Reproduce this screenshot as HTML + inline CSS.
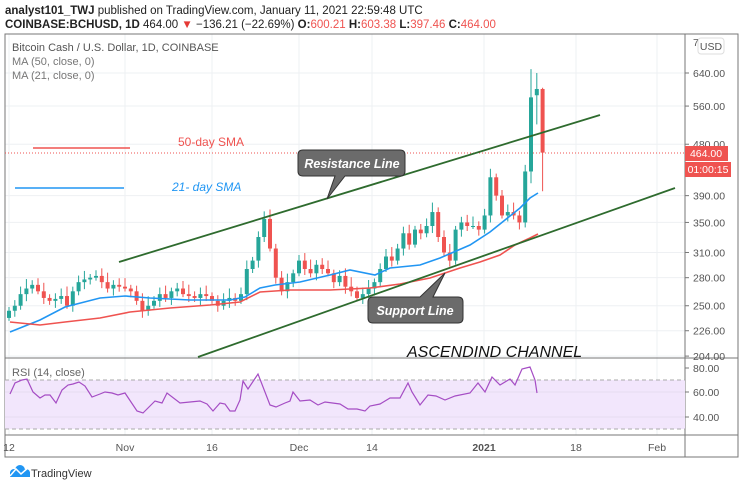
<!DOCTYPE html><html><head><meta charset="utf-8"><style>
body{margin:0;background:#fff;width:740px;height:487px;overflow:hidden;font-family:"Liberation Sans",sans-serif}
</style></head><body>
<svg id="s" width="740" height="487" xmlns="http://www.w3.org/2000/svg" font-family="Liberation Sans, sans-serif">
<text x="5" y="14" font-size="11.5" fill="#222"><tspan font-weight="bold">analyst101_TWJ</tspan> published on TradingView.com, January 11, 2021 22:59:48 UTC</text>
<text x="5" y="28" font-size="11.5" fill="#222"><tspan font-weight="bold">COINBASE:BCHUSD, 1D</tspan> 464.00 <tspan fill="#e53935">▼</tspan> −136.21 (−22.69%) <tspan font-weight="bold">O:</tspan><tspan fill="#ef5350">600.21</tspan> <tspan font-weight="bold">H:</tspan><tspan fill="#ef5350">603.38</tspan> <tspan font-weight="bold">L:</tspan><tspan fill="#ef5350">397.46</tspan> <tspan font-weight="bold">C:</tspan><tspan fill="#ef5350">464.00</tspan></text>
<g id="grid" stroke="#eef0f3" stroke-width="1"></g>
<rect x="5" y="34" width="733" height="423" fill="none" stroke="#777"/>
<line x1="685" y1="34" x2="685" y2="457" stroke="#777"/>
<line x1="5" y1="358" x2="738" y2="358" stroke="#777"/>
<line x1="5" y1="435" x2="738" y2="435" stroke="#777"/>
<rect x="5" y="380" width="680" height="49" fill="#f2e6fc"/>
<line x1="5" y1="380" x2="685" y2="380" stroke="#aaa" stroke-dasharray="4,3"/>
<line x1="5" y1="429" x2="685" y2="429" stroke="#aaa" stroke-dasharray="4,3"/>
<line x1="5" y1="392" x2="685" y2="392" stroke="#e6dcef"/><line x1="5" y1="417" x2="685" y2="417" stroke="#e6dcef"/>
<line x1="5" y1="153" x2="685" y2="153" stroke="#ef5350" stroke-dasharray="1,2"/>
<g id="c"></g>
<polyline fill="none" stroke="#2196f3" stroke-width="1.6" points="10,332 40,320 65,307 100,298 125,296 150,298 190,300 230,300 245,297 260,288 275,285 300,282 330,275 350,270 375,275 390,268 420,265 440,258 470,245 490,232 505,220 520,208 530,198 538,193"/>
<polyline fill="none" stroke="#ef5350" stroke-width="1.6" points="10,322 40,325 65,322 100,318 130,312 170,308 210,305 240,302 260,292 290,290 330,290 370,288 400,284 430,278 460,268 480,262 500,255 515,245 530,238 538,234"/>
<line x1="119" y1="262" x2="600" y2="115" stroke="#2e6b2e" stroke-width="1.8"/>
<line x1="198" y1="357" x2="675" y2="188" stroke="#2e6b2e" stroke-width="1.8"/>
<line x1="33" y1="148" x2="130" y2="148" stroke="#ef5350" stroke-width="1.5"/>
<text x="178" y="146" font-size="12" fill="#ef5350">50-day SMA</text>
<line x1="15" y1="188" x2="124" y2="188" stroke="#2196f3" stroke-width="1.5"/>
<text x="172" y="191" font-size="12" font-style="italic" fill="#2196f3">21- day SMA</text>
<path d="M303 150 H400 Q405 150 405 155 V171 Q405 176 400 176 H345 L327 199 L335 176 H303 Q298 176 298 171 V155 Q298 150 303 150Z" fill="#6b6b6b" stroke="#333"/>
<text x="352" y="168" font-size="12.5" font-weight="bold" font-style="italic" fill="#fff" text-anchor="middle">Resistance Line</text>
<path d="M373 297 H420 L445 273 L433 297 H458 Q463 297 463 302 V318 Q463 323 458 323 H373 Q368 323 368 318 V302 Q368 297 373 297Z" fill="#6b6b6b" stroke="#333"/>
<text x="415" y="315" font-size="12.5" font-weight="bold" font-style="italic" fill="#fff" text-anchor="middle">Support Line</text>
<text x="407" y="357" font-size="16" font-style="italic" fill="#111">ASCENDIND CHANNEL</text>
<text x="12" y="51" font-size="11" fill="#555">Bitcoin Cash / U.S. Dollar, 1D, COINBASE</text>
<text x="12" y="65" font-size="11" fill="#777">MA (50, close, 0)</text>
<text x="12" y="79" font-size="11" fill="#777">MA (21, close, 0)</text>
<text x="12" y="376" font-size="11" fill="#666">RSI (14, close)</text>
<polyline fill="none" stroke="#a54dc4" stroke-width="1.2" points="10,394 15,383 22,380 27,379 33,392 40,398 45,395 50,395 56,403 62,390 68,385 73,384 79,382 85,386 92,397 100,394 105,392 112,393 118,395 125,393 137,411 143,413 155,401 162,403 167,393 180,403 190,402 200,401 207,404 213,411 220,403 225,404 230,411 235,411 240,400 243,381 248,389 258,374 270,405 276,407 285,403 290,401 293,392 300,401 310,400 318,405 325,402 340,404 348,409 357,409 365,411 370,406 380,404 390,398 400,398 408,383 412,392 420,405 428,395 436,396 445,400 455,396 470,393 478,383 485,392 492,377 500,385 510,379 515,385 522,369 530,367 535,380 537,393"/>
<g id="ax" font-size="10.5" fill="#555"></g>
<rect x="698" y="38" width="26" height="16" rx="3" fill="#fff" stroke="#ddd"/><text x="711" y="50" font-size="10.5" fill="#555" text-anchor="middle">USD</text>
<rect x="685" y="146" width="43" height="15" fill="#ef5350"/><text x="706" y="157" font-size="10.5" fill="#fff" text-anchor="middle">464.00</text>
<rect x="685" y="162" width="46" height="15" fill="#ef5350"/><text x="708" y="173" font-size="10.5" fill="#fff" text-anchor="middle">01:00:15</text>
<g fill="#2196f3"><circle cx="14" cy="473" r="4"/><circle cx="20" cy="470" r="5"/><circle cx="26" cy="473" r="4"/><rect x="10" y="472" width="20" height="5"/></g>
<polyline points="10,476 16,469 21,474 29,467" fill="none" stroke="#fff" stroke-width="1.5"/>
<text x="31" y="477" font-size="11" fill="#333">TradingView</text>
</svg>
<script>
var NS="http://www.w3.org/2000/svg";
function y(p){return 73+(Math.log(640)-Math.log(p))*247.6;}
function X(d){return 9+5.8*d;}
function el(t,a,par){var e=document.createElementNS(NS,t);for(var k in a)e.setAttribute(k,a[k]);document.getElementById(par).appendChild(e);return e;}
var prices=[640,560,480,390,350,310,280,250,226,204];
prices.forEach(function(p){var yy=y(p);el('line',{x1:5,x2:685,y1:yy,y2:yy},'grid');el('line',{x1:685,x2:689,y1:yy,y2:yy,stroke:'#777'},'ax');var t=el('text',{x:693,y:yy+4},'ax');t.textContent=p.toFixed(2);});
var t7=el('text',{x:693,y:46},'ax');t7.textContent='7';
[[80,368],[60,392],[40,417]].forEach(function(r){el('line',{x1:685,x2:689,y1:r[1],y2:r[1],stroke:'#777'},'ax');var t=el('text',{x:693,y:r[1]+4},'ax');t.textContent=r[0].toFixed(2);});
var tl=[["12",9],["Nov",125],["16",212],["Dec",299],["14",372],["2021",484],["18",576],["Feb",657]];
tl.forEach(function(a){el('line',{x1:a[1],x2:a[1],y1:34,y2:435},'grid');var t=el('text',{x:a[1],y:451,'text-anchor':'middle','font-weight':a[0]=="2021"?'bold':'normal'},'ax');t.textContent=a[0];});
var cl=[245,250,262,268,272,265,258,255,257,260,250,265,275,278,280,282,275,268,272,270,
268,265,255,245,250,255,262,258,265,268,262,260,258,262,260,
255,250,255,258,255,262,290,300,330,355,315,280,265,275,285,
300,290,285,295,290,285,275,282,270,265,258,262,268,275,
290,305,300,315,335,320,340,335,345,365,330,310,300,340,350,345,345,
340,360,420,390,360,365,360,350,430,580,600,464];
var prev=238;
for(var i=0;i<cl.length;i++){
 var o=prev,c=cl[i];
 var h=Math.max(o,c)*(1+0.015+((i*37)%7)/250),l=Math.min(o,c)*(1-0.012-((i*53)%5)/250);
 if(i==cl.length-1){o=600;h=603;l=397;}
 if(i==cl.length-2){o=585;h=640;l=520;}
 if(i==cl.length-3){o=430;h=650;l=410;}
 var col=c>=o?'#26a69a':'#ef5350',x=X(i);
 el('line',{x1:x,x2:x,y1:y(h),y2:y(l),stroke:col,'stroke-width':1},'c');
 var t=y(Math.max(o,c)),b=y(Math.min(o,c));
 el('rect',{x:x-2,y:t,width:4,height:Math.max(1,b-t),fill:col},'c');
 prev=c;
}
</script>
</body></html>
